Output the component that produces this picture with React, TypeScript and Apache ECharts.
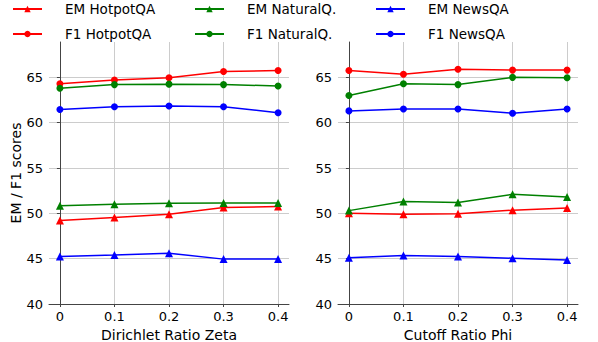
import React, { useEffect, useRef } from "react";
import * as echarts from "echarts";

const xValues = [0, 0.1, 0.2, 0.3, 0.4];
const yTicks = [40, 45, 50, 55, 60, 65];

// Left panel: Dirichlet Ratio Zeta
const zetaEmHotpot = [49.2, 49.55, 49.9, 50.65, 50.75];
const zetaF1Hotpot = [64.3, 64.7, 64.95, 65.65, 65.75];
const zetaEmNatural = [50.85, 51.0, 51.1, 51.15, 51.15];
const zetaF1Natural = [63.8, 64.2, 64.25, 64.2, 64.05];
const zetaEmNews = [45.25, 45.4, 45.6, 44.95, 44.95];
const zetaF1News = [61.45, 61.75, 61.85, 61.75, 61.1];

// Right panel: Cutoff Ratio Phi
const phiEmHotpot = [50.0, 49.9, 49.95, 50.35, 50.6];
const phiF1Hotpot = [65.75, 65.35, 65.9, 65.8, 65.8];
const phiEmNatural = [50.3, 51.3, 51.2, 52.1, 51.8];
const phiF1Natural = [63.0, 64.3, 64.2, 65.0, 64.95];
const phiEmNews = [45.1, 45.35, 45.25, 45.05, 44.85];
const phiF1News = [61.3, 61.5, 61.5, 61.05, 61.5];

const RED = "#ff0000";
const GREEN = "#008000";
const BLUE = "#0000ff";
const FONT = "DejaVu Sans";

export default function App() {
  const ref = useRef<HTMLDivElement>(null);
  useEffect(() => {
    if (!ref.current) return;
    const chart = echarts.init(ref.current, undefined, { renderer: "svg" });

    const pts = (vals: number[]) => xValues.map((x, i) => [x, vals[i]]);
    const mk = (name: string, vals: number[], color: string, em: boolean, idx: number) => ({
      name,
      type: "line",
      xAxisIndex: idx,
      yAxisIndex: idx,
      data: pts(vals),
      symbol: em ? "triangle" : "circle",
      symbolSize: em ? 8 : 7,
      showSymbol: true,
      lineStyle: { color, width: 1.5 },
      itemStyle: { color },
      emphasis: { disabled: true },
    });

    const xAxis = (idx: number, name: string) => ({
      type: "value",
      gridIndex: idx,
      min: -0.02,
      max: 0.42,
      name,
      nameLocation: "middle",
      nameGap: 18,
      nameTextStyle: { fontFamily: FONT, fontSize: 14, color: "#000" },
      axisLine: { show: true, onZero: false, lineStyle: { color: "#444", width: 1 } },
      axisTick: { show: true, length: 3, customValues: xValues, lineStyle: { color: "#444" } },
      axisLabel: {
        customValues: xValues,
        margin: 6,
        fontFamily: FONT,
        fontSize: 13,
        color: "#000",
        formatter: (v: number) => (v === 0 ? "0" : String(v)),
      },
      splitLine: { show: true, lineStyle: { color: "#cccccc", width: 1 } },
    });

    const yAxis = (idx: number, name: string) => ({
      type: "value",
      gridIndex: idx,
      min: 40,
      max: 68.9,
      name,
      nameLocation: "middle",
      nameGap: 25,
      nameTextStyle: { fontFamily: FONT, fontSize: 14, color: "#000" },
      axisLine: { show: true, lineStyle: { color: "#444", width: 1 } },
      axisTick: { show: true, length: 3, customValues: yTicks, lineStyle: { color: "#444" } },
      axisLabel: { customValues: yTicks, margin: 6, fontFamily: FONT, fontSize: 13, color: "#000" },
      splitLine: { show: true, lineStyle: { color: "#cccccc", width: 1 } },
    });

    const legend = (left: number, names: string[]) => ({
      orient: "vertical",
      left,
      top: 2,
      padding: 0,
      itemWidth: 29,
      itemHeight: 8,
      itemGap: 11,
      selectedMode: false,
      data: names,
      textStyle: { fontFamily: FONT, fontSize: 13.5, color: "#000", padding: [0, 0, 0, 18] },
    });

    chart.setOption({
      animation: false,
      backgroundColor: "#fff",
      legend: [
        legend(12, ["EM HotpotQA", "F1 HotpotQA"]),
        legend(194, ["EM NaturalQ.", "F1 NaturalQ."]),
        legend(375, ["EM NewsQA", "F1 NewsQA"]),
      ],
      grid: [
        { left: 49, top: 42, width: 240, height: 262, outerBoundsMode: "none", containLabel: false },
        { left: 338, top: 42, width: 240, height: 262, outerBoundsMode: "none", containLabel: false },
      ],
      xAxis: [xAxis(0, "Dirichlet Ratio Zeta"), xAxis(1, "Cutoff Ratio Phi")],
      yAxis: [yAxis(0, "EM / F1 scores"), yAxis(1, "")],
      series: [
        mk("EM HotpotQA", zetaEmHotpot, RED, true, 0),
        mk("F1 HotpotQA", zetaF1Hotpot, RED, false, 0),
        mk("EM NaturalQ.", zetaEmNatural, GREEN, true, 0),
        mk("F1 NaturalQ.", zetaF1Natural, GREEN, false, 0),
        mk("EM NewsQA", zetaEmNews, BLUE, true, 0),
        mk("F1 NewsQA", zetaF1News, BLUE, false, 0),
        mk("EM HotpotQA", phiEmHotpot, RED, true, 1),
        mk("F1 HotpotQA", phiF1Hotpot, RED, false, 1),
        mk("EM NaturalQ.", phiEmNatural, GREEN, true, 1),
        mk("F1 NaturalQ.", phiF1Natural, GREEN, false, 1),
        mk("EM NewsQA", phiEmNews, BLUE, true, 1),
        mk("F1 NewsQA", phiF1News, BLUE, false, 1),
      ],
    });
    return () => chart.dispose();
  }, []);
  return <div ref={ref} style={{ width: 598, height: 342, position: "absolute", left: 0, top: 0 }} />;
}
